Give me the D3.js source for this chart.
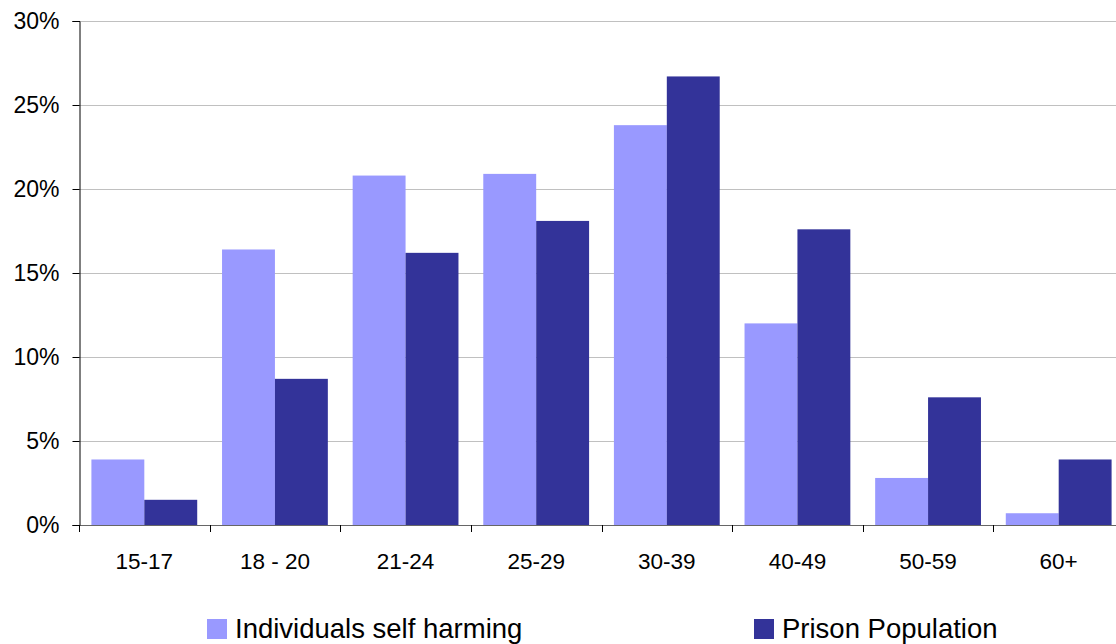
<!DOCTYPE html>
<html><head><meta charset="utf-8">
<script src="https://cdn.jsdelivr.net/npm/d3@7"></script>
<style>body{margin:0;background:#fff}svg{display:block}</style>
</head><body>
<svg id="c" width="1116" height="644"></svg>
<script>
const categories = ["15-17","18 - 20","21-24","25-29","30-39","40-49","50-59","60+"];
const selfHarm = [3.9, 16.4, 20.8, 20.9, 23.8, 12.0, 2.8, 0.7];
const prison = [1.5, 8.7, 16.2, 18.1, 26.7, 17.6, 7.6, 3.9];
const seriesNames = ["Individuals self harming","Prison Population"];
const colors = ["#9999FF","#333399"];
const yTicks = [0,5,10,15,20,25,30];

(function(){
const svg = d3.select("#c");
const mLeft = 79, mRight = 1124, mTop = 21, mBottom = 525;
const font = "Liberation Sans, Arial, sans-serif";
const x = d3.scaleBand().domain(categories).range([mLeft, mRight]).paddingInner(0.19).paddingOuter(0.095);
const xs = d3.scaleBand().domain([0,1]).range([0, x.bandwidth()]);
const y = d3.scaleLinear().domain([0,30]).range([mBottom, mTop]);

svg.append("g").selectAll("line").data(yTicks.filter(d=>d>0)).join("line")
  .attr("x1", mLeft).attr("x2", 1116).attr("y1", d=>y(d)+0.5).attr("y2", d=>y(d)+0.5)
  .attr("stroke", "#c0c0c0").attr("stroke-width", 1);

const data = categories.map((c,i)=>({c, v:[selfHarm[i], prison[i]]}));
svg.append("g").selectAll("g").data(data).join("g")
  .attr("transform", d=>`translate(${x(d.c)},0)`)
  .selectAll("rect").data(d=>d.v.map((v,k)=>({v,k}))).join("rect")
  .attr("x", d=>xs(d.k)).attr("width", xs.bandwidth())
  .attr("y", d=>y(d.v)).attr("height", d=>mBottom - y(d.v))
  .attr("fill", d=>colors[d.k]);

const ya = svg.append("g").attr("transform", `translate(${mLeft+0.5},0)`)
  .call(d3.axisLeft(y).tickValues(yTicks).tickFormat(d=>d+"%").tickSize(7).tickPadding(13));
ya.select(".domain").attr("stroke","#000");
ya.selectAll(".tick line").attr("stroke","#000");
ya.selectAll("text").attr("font-family",font).attr("font-size",23).attr("fill","#000");

const xStep = x.step();
const tickPos = d3.range(categories.length+1).map(i=>mLeft + i*xStep);
const xa = svg.append("g");
xa.append("line").attr("x1",mLeft).attr("x2",1116).attr("y1",mBottom+0.5).attr("y2",mBottom+0.5).attr("stroke","#000").attr("stroke-opacity",0.6);
xa.selectAll(".t").data(tickPos).join("line").attr("class","t")
  .attr("x1",d=>Math.round(d)+0.5).attr("x2",d=>Math.round(d)+0.5).attr("y1",mBottom).attr("y2",mBottom+7).attr("stroke","#000");
xa.selectAll("text").data(categories).join("text")
  .attr("x", d=>x(d)+x.bandwidth()/2).attr("y", 569)
  .attr("text-anchor","middle").attr("font-family",font).attr("font-size",22.5).attr("fill","#000")
  .text(d=>d);

const legX = [207, 754];
const lg = svg.append("g").selectAll("g").data(seriesNames).join("g")
  .attr("transform",(d,i)=>`translate(${legX[i]},619)`);
lg.append("rect").attr("width",20).attr("height",20).attr("fill",(d,i)=>colors[i]);
lg.append("text").attr("x",28).attr("y",19).attr("font-family",font).attr("font-size",27.5).attr("fill","#000").text(d=>d);
})();
</script>
</body></html>
